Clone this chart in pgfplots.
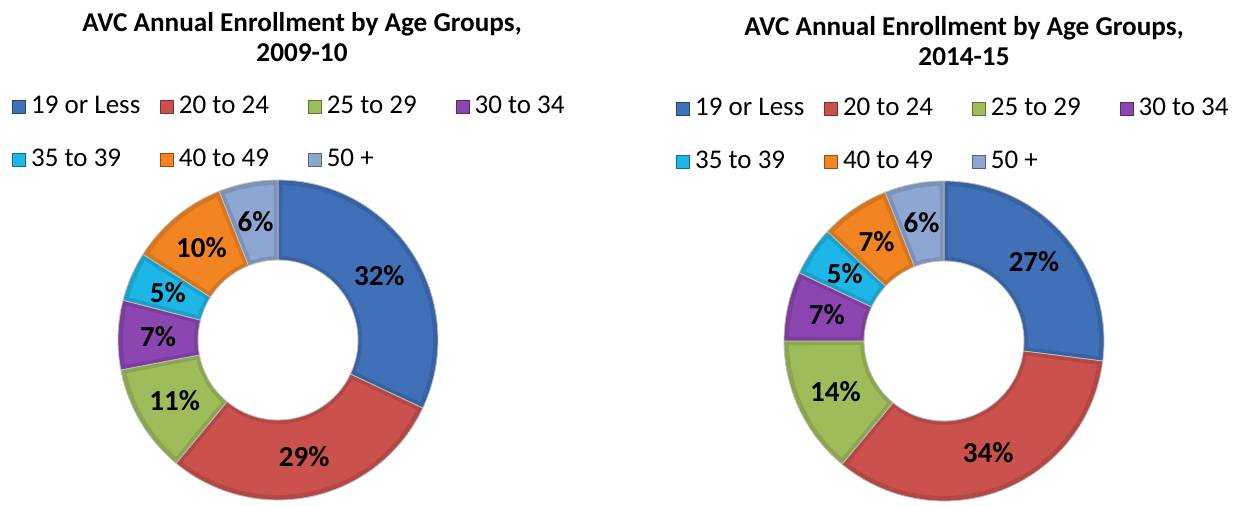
\documentclass[border=0pt]{standalone}
\usepackage{pgfplots}
\usepackage{pgfplotstable}
\pgfplotsset{compat=1.18}
\usepackage{fontspec}
\setmainfont{Carlito}
\definecolor{s0}{HTML}{3F70B8}
\definecolor{s1}{HTML}{CB514D}
\definecolor{s2}{HTML}{9EBD5A}
\definecolor{s3}{HTML}{8C46B2}
\definecolor{s4}{HTML}{1DB7E7}
\definecolor{s5}{HTML}{F28521}
\definecolor{s6}{HTML}{8EA6D2}

\pgfplotstableread{
idx pct
0 32
1 29
2 11
3 7
4 5
5 10
6 6
}\dataA
\pgfplotstableread{
idx pct
0 27
1 34
2 14
3 7
4 5
5 7
6 6
}\dataB

\def\Ro{160}
\def\Ri{80}
\def\Rm{120}
\def\RoI{155}
\def\RiI{84}
\newcommand\donut[1]{%
 \pgfplotsextra{%
  \pgfplotstablegetrowsof{#1}%
  \pgfmathtruncatemacro\Nrows{\pgfplotsretval-1}%
  \gdef\sa{90}%
  \foreach \i in {0,...,\Nrows}{%
    \pgfplotstablegetelem{\i}{pct}\of{#1}\let\pv\pgfplotsretval
    \pgfmathsetmacro\ea{\sa-3.6*\pv}%
    \pgfmathsetmacro\ma{(\sa+\ea)/2}%
    % rim (slightly darker)
    \fill[fill=s\i!88!black]
      (axis cs:{\Ro*cos(\sa)},{\Ro*sin(\sa)})
      arc[start angle=\sa, end angle=\ea, radius=\Ro*0.5bp]
      -- (axis cs:{\Ri*cos(\ea)},{\Ri*sin(\ea)})
      arc[start angle=\ea, end angle=\sa, radius=\Ri*0.5bp] -- cycle;
    % face
    \pgfmathsetmacro\sao{\sa-1.6}\pgfmathsetmacro\eao{\ea+1.6}%
    \pgfmathsetmacro\sai{\sa-2.8}\pgfmathsetmacro\eai{\ea+2.8}%
    \fill[fill=s\i]
      (axis cs:{\RoI*cos(\sao)},{\RoI*sin(\sao)})
      arc[start angle=\sao, end angle=\eao, radius=\RoI*0.5bp]
      -- (axis cs:{\RiI*cos(\eai)},{\RiI*sin(\eai)})
      arc[start angle=\eai, end angle=\sai, radius=\RiI*0.5bp] -- cycle;
    % outline
    \draw[draw=black!25, line width=0.4bp]
      (axis cs:{\Ro*cos(\sa)},{\Ro*sin(\sa)})
      arc[start angle=\sa, end angle=\ea, radius=\Ro*0.5bp]
      -- (axis cs:{\Ri*cos(\ea)},{\Ri*sin(\ea)})
      arc[start angle=\ea, end angle=\sa, radius=\Ri*0.5bp] -- cycle;
    \node[font=\fontsize{14.5bp}{14.5bp}\selectfont\bfseries, text=black]
      at (axis cs:{\Rm*cos(\ma)},{\Rm*sin(\ma)}) {\pv\%};
    \global\let\sa\ea
  }}}

\pgfplotsset{donutaxis/.style={
  anchor=center, x=0.5bp, y=0.5bp,
  xmin=-170, xmax=170, ymin=-170, ymax=170,
  hide axis, clip=false,
  legend columns=4,
  legend image code/.code={\fill[##1] (0bp,0bp) rectangle (6.5bp,6.5bp);},
  legend style={draw=none, fill=none, inner sep=0pt, column sep=0pt, row sep=13.5bp,
    font=\fontsize{13.5bp}{13.5bp}\selectfont,
    nodes={inner xsep=2.5bp, inner ysep=0pt, text height=10bp, text depth=3bp},
    cells={anchor=base west}},
}}

\newcommand\lentry[1]{\makebox[62bp][l]{#1}}
\newcommand\legendset{%
  \addlegendimage{fill=s0, draw=s0!60!black}\addlegendentry{\lentry{19 or Less}}
  \addlegendimage{fill=s1, draw=s1!60!black}\addlegendentry{\lentry{20 to 24}}
  \addlegendimage{fill=s2, draw=s2!60!black}\addlegendentry{\lentry{25 to 29}}
  \addlegendimage{fill=s3, draw=s3!60!black}\addlegendentry{\lentry{30 to 34}}
  \addlegendimage{fill=s4, draw=s4!60!black}\addlegendentry{\lentry{35 to 39}}
  \addlegendimage{fill=s5, draw=s5!60!black}\addlegendentry{\lentry{40 to 49}}
  \addlegendimage{fill=s6, draw=s6!60!black}\addlegendentry{\lentry{50 +}}
}

\begin{document}
\begin{tikzpicture}[x=0.5bp,y=0.5bp]
\useasboundingbox (0,0) rectangle (1238,506);
\node[font=\fontsize{13.6bp}{15bp}\selectfont\bfseries, align=center] at (302,469)
  {AVC Annual Enrollment by Age Groups,\\2009-10};
\node[font=\fontsize{13.6bp}{15bp}\selectfont\bfseries, align=center] at (964,465)
  {AVC Annual Enrollment by Age Groups,\\2014-15};

\begin{axis}[donutaxis, at={(278,166)},
  legend style={at={(axis cs:-266,247)}, anchor=north west}]
\legendset
\donut{\dataA}
\end{axis}

\begin{axis}[donutaxis, at={(944,165)},
  legend style={at={(axis cs:-268,246)}, anchor=north west}]
\legendset
\donut{\dataB}
\end{axis}
\end{tikzpicture}
\end{document}
